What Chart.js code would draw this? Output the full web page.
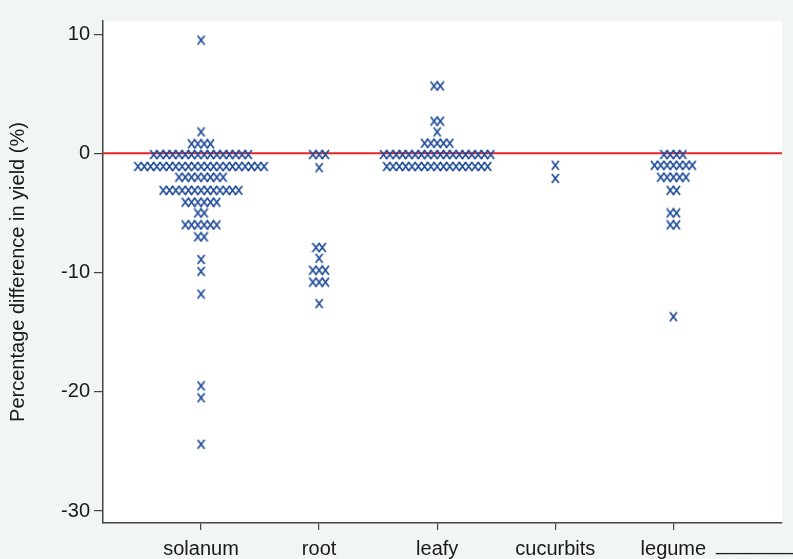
<!DOCTYPE html>
<html>
<head>
<meta charset="utf-8">
<script src="https://cdn.jsdelivr.net/npm/chart.js@4/dist/chart.umd.min.js"></script>
<style>
  body { margin: 0; background: #f1f5f5; }
  #wrap { width: 793px; height: 559px; position: relative; }
</style>
</head>
<body>
<div id="wrap"><canvas id="dotChart"></canvas></div>
<script>
// categories and tick labels
var categories = ['solanum', 'root', 'leafy', 'cucurbits', 'legume'];
var yTicks = [-30, -20, -10, 0, 10];
var refLine = 0;

// dot plot rows: binned value and how many studies fall in that bin
var solanumVals   = [9.5, 1.8, 0.8, -0.1, -1.1, -2.0, -3.1, -4.1, -5.0, -6.0, -7.0, -8.9, -9.9, -11.8, -19.5, -20.5, -24.4];
var solanumCounts = [1,   1,   4,   16,   21,   8,    13,   6,    2,    6,    2,    1,    1,    1,     1,     1,     1];
var rootVals      = [-0.1, -1.2, -7.9, -8.8, -9.8, -10.8, -12.6];
var rootCounts    = [3,    1,    2,    1,    3,    3,     1];
var leafyVals     = [5.65, 2.7, 1.8, 0.85, -0.1, -1.1];
var leafyCounts   = [2,    2,   1,   5,    18,   17];
var cucurbitVals  = [-1.0, -2.1];
var cucurbitCounts = [1, 1];
var legumeVals    = [-0.1, -1.0, -2.0, -3.1, -5.0, -6.0, -13.7];
var legumeCounts  = [4,    7,    5,    2,    2,    2,    1];

var step = 0.0534; // horizontal spread between stacked markers (x units)

function stack(cat, vals, counts) {
    var pts = [];
    for (var i = 0; i < vals.length; i++) {
        for (var j = 0; j < counts[i]; j++) {
            pts.push({ x: cat + (j - (counts[i] - 1) / 2) * step, y: vals[i] });
        }
    }
    return pts;
}

var points = [].concat(
    stack(1, solanumVals, solanumCounts),
    stack(2, rootVals, rootCounts),
    stack(3, leafyVals, leafyCounts),
    stack(4, cucurbitVals, cucurbitCounts),
    stack(5, legumeVals, legumeCounts)
);

// letter-like X marker, a bit taller than wide
var marker = document.createElement('canvas');
marker.width = 9;
marker.height = 11;
(function() {
    var c = marker.getContext('2d');
    c.strokeStyle = '#1f4b96';
    c.lineWidth = 1.7;
    c.lineCap = 'butt';
    c.beginPath();
    c.moveTo(1, 1); c.lineTo(8, 10);
    c.moveTo(8, 1); c.lineTo(1, 10);
    c.stroke();
})();

var font = "'Liberation Sans', Arial, sans-serif";

var plotBg = {
    id: 'plotBg',
    beforeDraw: function(chart) {
        var a = chart.chartArea, ctx = chart.ctx;
        ctx.save();
        ctx.fillStyle = '#ffffff';
        ctx.fillRect(a.left, a.top, a.right - a.left, a.bottom - a.top);
        ctx.restore();
    },
    beforeDatasetsDraw: function(chart) {
        var a = chart.chartArea, ctx = chart.ctx;
        var y = chart.scales.y.getPixelForValue(refLine);
        ctx.save();
        ctx.strokeStyle = '#e3262b';
        ctx.lineWidth = 2;
        ctx.beginPath();
        ctx.moveTo(a.left, y);
        ctx.lineTo(a.right, y);
        ctx.stroke();
        ctx.restore();
    },
    afterDraw: function(chart) {
        var ctx = chart.ctx;
        ctx.save();
        ctx.fillStyle = '#222';
        ctx.font = '20px ' + font;
        ctx.textAlign = 'left';
        ctx.textBaseline = 'alphabetic';
        ctx.fillText('_______', 716, 550);
        ctx.restore();
    }
};

new Chart(document.getElementById('dotChart'), {
    type: 'scatter',
    data: {
        datasets: [{
            data: points,
            pointStyle: marker,
            pointRadius: 5,
            pointHoverRadius: 5,
            borderColor: '#1f4b96',
            backgroundColor: '#1f4b96'
        }]
    },
    options: {
        responsive: true,
        maintainAspectRatio: false,
        animation: false,
        layout: { padding: { left: 0, top: 21, right: 11, bottom: 0 } },
        plugins: { legend: { display: false }, tooltip: { enabled: false } },
        scales: {
            x: {
                type: 'linear',
                min: 0.17,
                max: 5.92,
                afterBuildTicks: function(scale) {
                    scale.ticks = categories.map(function(c, i) { return { value: i + 1 }; });
                },
                afterFit: function(scale) { scale.height = 36; },
                ticks: {
                    autoSkip: false,
                    maxRotation: 0,
                    padding: 7,
                    color: '#1a1a1a',
                    font: { family: font, size: 20 },
                    callback: function(v) { return categories[Math.round(v) - 1]; }
                },
                grid: { drawOnChartArea: false, drawTicks: true, tickLength: 7, color: '#444', lineWidth: 1.2 },
                border: { display: true, color: '#444', width: 1.5 }
            },
            y: {
                min: -31,
                max: 11.1,
                afterBuildTicks: function(scale) {
                    scale.ticks = yTicks.map(function(v) { return { value: v }; });
                },
                afterFit: function(scale) { scale.width = 103; },
                ticks: {
                    padding: 4,
                    color: '#1a1a1a',
                    font: { family: font, size: 20 }
                },
                grid: { drawOnChartArea: false, drawTicks: true, tickLength: 9, color: '#444', lineWidth: 1.2 },
                border: { display: true, color: '#444', width: 1.5 },
                title: {
                    display: true,
                    text: 'Percentage difference in yield (%)',
                    color: '#1a1a1a',
                    font: { family: font, size: 20 },
                    padding: { top: 6, bottom: 0 }
                }
            }
        }
    },
    plugins: [plotBg]
});
</script>
</body>
</html>
